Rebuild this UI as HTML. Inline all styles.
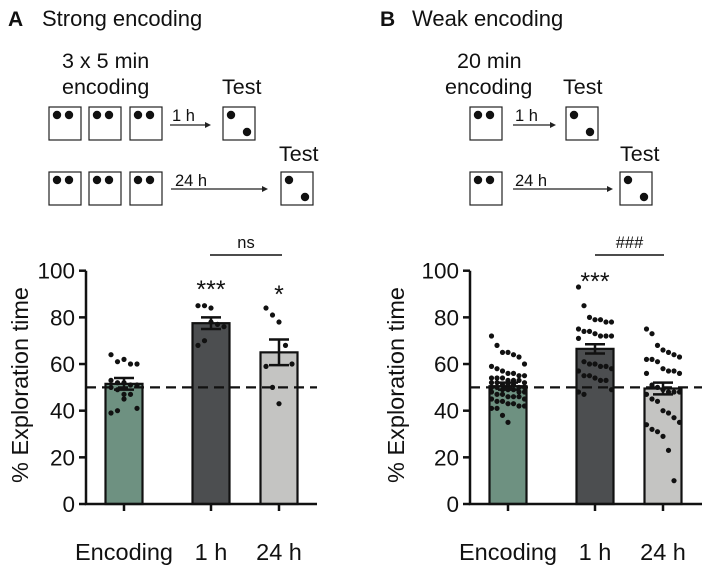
<!DOCTYPE html>
<html><head><meta charset="utf-8"><style>
body{margin:0;background:#fff;}
svg{display:block;font-family:"Liberation Sans",Arial,sans-serif;}
</style></head><body>
<svg width="703" height="575" viewBox="0 0 703 575">
<g>
<text x="8" y="26" font-size="21" font-weight="bold" fill="#111">A</text>
<text x="42" y="26" font-size="22" fill="#111">Strong encoding</text>
<text x="62" y="68" font-size="21.5" fill="#111">3 x 5 min</text>
<text x="62" y="94" font-size="21.5" fill="#111">encoding</text>
<text x="222" y="94" font-size="21.5" fill="#111">Test</text>
<text x="279" y="161" font-size="21.5" fill="#111">Test</text>
<text x="172" y="121" font-size="16.5" fill="#111">1 h</text>
<text x="175" y="186" font-size="16.5" fill="#111">24 h</text>
</g>
<g>
<text x="380" y="26" font-size="21" font-weight="bold" fill="#111">B</text>
<text x="412" y="26" font-size="22" fill="#111">Weak encoding</text>
<text x="457" y="68" font-size="21.5" fill="#111">20 min</text>
<text x="445" y="94" font-size="21.5" fill="#111">encoding</text>
<text x="563" y="94" font-size="21.5" fill="#111">Test</text>
<text x="620" y="161" font-size="21.5" fill="#111">Test</text>
<text x="515" y="121" font-size="16.5" fill="#111">1 h</text>
<text x="515" y="186" font-size="16.5" fill="#111">24 h</text>
</g>
<g id="boxes"></g>
<g id="chartA"></g>
<g id="chartB"></g>
</svg>
<script>
const categories=["Encoding","1 h","24 h"];
const colors=["#6e9181","#4c4e50","#c4c4c2"];
const meansA=[51.5,77.5,65];
const semA=[2.5,2.5,5.5];
const pointsA0=[64,61,62,60,60,53,52,52,51,51,50,49,47,47,41,39,40,45];
const pointsA1=[85,85,84,77,76,68,70,78];
const pointsA2=[84,81,78,68,60,59,50,43];
const meansB=[50.5,66.5,49.5];
const semB=[1.5,2,2.5];
const pointsB0=[72,68,65,65,64,63,60,59,58,57,56,56,55,55,54,54,54,53,53,53,52,52,52,51,51,51,50,50,50,50,49,49,49,48,48,48,47,47,46,46,46,45,45,44,44,43,43,42,42,41,41,38,35];
const pointsB1=[93,85,80,79,79,78,78,75,74,74,73,72,72,72,71,61,60,60,59,59,58,57,55,55,54,53,53,49,48,47];
const pointsB2=[75,73,68,66,65,64,63,62,62,61,58,57,57,56,56,51,50,49,48,48,48,47,45,44,40,39,37,35,34,32,31,29,23,10];
const yTicks=[0,20,40,60,80,100];
const NS="http://www.w3.org/2000/svg";
function mk(parent,tag,attrs){const e=document.createElementNS(NS,tag);for(const k in attrs)e.setAttribute(k,attrs[k]);parent.appendChild(e);return e;}
const bx=document.getElementById('boxes');
function box(x,y,test,name){
  const g=mk(bx,'g',{});
  
  
  mk(g,'rect',{x:x,y:y,width:32,height:33,fill:'#fff',stroke:'#222','stroke-width':1.2});
  if(test){mk(g,'circle',{cx:x+8,cy:y+8,r:4.2,fill:'#111'});mk(g,'circle',{cx:x+24,cy:y+25,r:4.2,fill:'#111'});}
  else{mk(g,'circle',{cx:x+8,cy:y+8,r:4.2,fill:'#111'});mk(g,'circle',{cx:x+20,cy:y+8,r:4.2,fill:'#111'});}
}
function arrow(x1,x2,y,name){
  const g=mk(bx,'g',{});
  
  
  mk(g,'line',{x1:x1,y1:y,x2:x2-5,y2:y,stroke:'#222','stroke-width':1.2});
  mk(g,'polygon',{points:`${x2},${y} ${x2-6},${y-3} ${x2-6},${y+3}`,fill:'#222'});
}
[49,89,130].forEach((x)=>{box(x,107,false,'encoding-box');box(x,172,false,'encoding-box');});
box(223,107,true,'test-box');box(281,172,true,'test-box');
arrow(170,211,125,'arrow-1h');arrow(171,268,189,'arrow-24h');
box(470,107,false,'encoding-box');box(470,172,false,'encoding-box');
box(566,107,true,'test-box');box(620,172,true,'test-box');
arrow(513,556,125,'arrow-1h');arrow(513,613,189,'arrow-24h');

function chart(g,ax,axEnd,centers,means,sems,pts,sigLine,sigText,stars,titleX){
  const y0=504,y100=270.7;
  const Y=v=>y0-(v/100)*(y0-y100);
  const bw=37;
  means.forEach((m,i)=>{
    const r=mk(g,'rect',{x:centers[i]-bw/2,y:Y(m),width:bw,height:y0-Y(m),fill:colors[i],stroke:'#111','stroke-width':2.2});
    
    
  });
  pts.forEach((arr,i)=>{
    const spread=arr.length>20?7:6.5;
    const cols=arr.length>20?7:5;
    arr.forEach((v,j)=>{
      const off=((j%cols)-(cols-1)/2)*(arr.length>20?5.5:spread);
      const c=mk(g,'circle',{cx:centers[i]+off,cy:Y(v),r:2.6,fill:'#111'});
      
      
    });
  });
  means.forEach((m,i)=>{
    const e=mk(g,'path',{d:`M${centers[i]},${Y(m+sems[i])}V${Y(m-sems[i])}M${centers[i]-10},${Y(m+sems[i])}H${centers[i]+10}M${centers[i]-10},${Y(m-sems[i])}H${centers[i]+10}`,stroke:'#111','stroke-width':2.5,fill:'none'});
    
    
  });
  const ch=mk(g,'line',{x1:ax,y1:Y(50),x2:axEnd,y2:Y(50),stroke:'#111','stroke-width':2.2,'stroke-dasharray':'10,6'});
  
  
  const axes=mk(g,'path',{d:`M${ax},${y100}V${y0}H${axEnd}`,stroke:'#111','stroke-width':2.5,fill:'none'});
  
  
  yTicks.forEach(t=>{
    mk(g,'line',{x1:ax-7,y1:Y(t),x2:ax,y2:Y(t),stroke:'#111','stroke-width':2.5});
    const tx=mk(g,'text',{x:ax-11,y:Y(t)+8,'font-size':22.5,'text-anchor':'end',fill:'#111'});
    tx.textContent=t;
    
    
  });
  centers.forEach((c,i)=>{
    mk(g,'line',{x1:c,y1:y0,x2:c,y2:y0+7,stroke:'#111','stroke-width':2.5});
    const tx=mk(g,'text',{x:c,y:560,'font-size':23.5,'text-anchor':'middle',fill:'#111'});
    tx.textContent=categories[i];
    
    
  });
  const tt=mk(g,'text',{x:0,y:0,'font-size':23.5,'text-anchor':'middle',fill:'#111',transform:`translate(${titleX},385) rotate(-90)`});
  tt.textContent='% Exploration time';
  
  
  const sl=mk(g,'line',{x1:sigLine[0],y1:255,x2:sigLine[1],y2:255,stroke:'#111','stroke-width':1.5});
  
  
  const st=mk(g,'text',{x:(sigLine[0]+sigLine[1])/2,y:248,'font-size':16.5,'text-anchor':'middle',fill:'#111'});
  st.textContent=sigText;
  
  
  stars.forEach((s,i)=>{
    if(!s)return;
    const t=mk(g,'text',{x:centers[i],y:s[1],'font-size':25,'text-anchor':'middle',fill:'#111'});
    t.textContent=s[0];
    
    
  });
}
chart(document.getElementById('chartA'),86,317,[124,211,279],meansA,semA,[pointsA0,pointsA1,pointsA2],[210,282],'ns',[null,['***',298],['*',303]],28);
chart(document.getElementById('chartB'),470,702,[508,595,663],meansB,semB,[pointsB0,pointsB1,pointsB2],[595,664],'###',[null,['***',290],null],404);
</script>
</body></html>
